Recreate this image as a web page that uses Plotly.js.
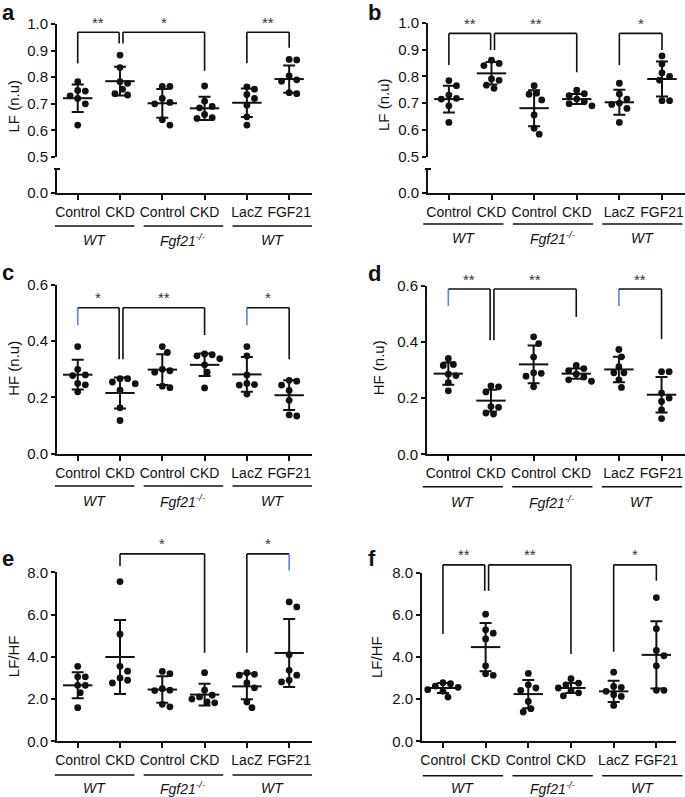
<!DOCTYPE html>
<html><head><meta charset="utf-8">
<script src="https://cdn.plot.ly/plotly-3.0.1.min.js"></script>
<style>html,body{margin:0;padding:0;background:#fff}</style>
</head><body><div id="chart" style="width:685px;height:797px"></div>
<script>
// ---------- labels ----------
const tickLabels = ['Control', 'CKD', 'Control', 'CKD', 'LacZ', 'FGF21'];
const groupLabels = ['<i>WT</i>', '<i>Fgf21<sup>-/-</sup></i>', '<i>WT</i>'];

// ---------- panel a : LF (n.u) ----------
const aCtrlWT = [0.783, 0.75, 0.748, 0.73, 0.72, 0.70, 0.62];
const aCkdWT  = [0.883, 0.836, 0.783, 0.777, 0.755, 0.738, 0.733];
const aCtrlKO = [0.765, 0.765, 0.72, 0.705, 0.70, 0.64, 0.62];
const aCkdKO  = [0.767, 0.71, 0.69, 0.685, 0.66, 0.648, 0.645];
const aLacZ   = [0.764, 0.755, 0.735, 0.72, 0.695, 0.651, 0.62];
const aFGF21  = [0.867, 0.865, 0.805, 0.79, 0.785, 0.742, 0.738];
const aMean = [0.721, 0.785, 0.702, 0.683, 0.704, 0.793];
const aSD   = [0.052, 0.054, 0.054, 0.0435, 0.0535, 0.051];
const aPairs = [[0, 1], [1, 3], [4, 5]];
const aStars = ['**', '*', '**'];
const aBracketY = [[0.852, 0.969, 0.927], [0.927, 0.969, 0.824], [0.852, 0.969, 0.911]];

// ---------- panel b : LF (n.u) ----------
const bCtrlWT = [0.784, 0.765, 0.73, 0.718, 0.715, 0.69, 0.628];
const bCkdWT  = [0.86, 0.848, 0.84, 0.79, 0.785, 0.767, 0.755];
const bCtrlKO = [0.765, 0.737, 0.733, 0.712, 0.656, 0.606, 0.584];
const bCkdKO  = [0.748, 0.735, 0.728, 0.715, 0.705, 0.698, 0.69];
const bLacZ   = [0.774, 0.734, 0.715, 0.70, 0.695, 0.68, 0.628];
const bFGF21  = [0.876, 0.846, 0.813, 0.80, 0.786, 0.709, 0.709];
const bMean = [0.715, 0.811, 0.681, 0.715, 0.703, 0.79];
const bSD   = [0.05, 0.042, 0.067, 0.0185, 0.0465, 0.065];
const bPairs = [[0, 1], [1, 3], [4, 5]];
const bStars = ['**', '**', '*'];
const bBracketY = [[0.842, 0.960, 0.898], [0.898, 0.960, 0.815], [0.842, 0.960, 0.898]];

// ---------- panel c : HF (n.u) ----------
const cCtrlWT = [0.381, 0.30, 0.28, 0.278, 0.25, 0.245, 0.22];
const cCkdWT  = [0.267, 0.267, 0.255, 0.249, 0.226, 0.163, 0.118];
const cCtrlKO = [0.381, 0.36, 0.30, 0.295, 0.29, 0.24, 0.235];
const cCkdKO  = [0.355, 0.352, 0.348, 0.338, 0.316, 0.29, 0.234];
const cLacZ   = [0.381, 0.348, 0.28, 0.25, 0.246, 0.244, 0.212];
const cFGF21  = [0.261, 0.258, 0.244, 0.225, 0.19, 0.138, 0.134];
const cMean = [0.281, 0.216, 0.299, 0.316, 0.282, 0.208];
const cSD   = [0.053, 0.055, 0.0545, 0.04, 0.062, 0.053];
const cPairs = [[0, 1], [1, 3], [4, 5]];
const cStars = ['*', '**', '*'];
const cBracketY = [[0.457, 0.519, 0.336], [0.336, 0.519, 0.422], [0.457, 0.519, 0.336]];
const cBlueLegs = [[true, false], [false, false], [true, false]];

// ---------- panel d : HF (n.u) ----------
const dCtrlWT = [0.341, 0.32, 0.316, 0.285, 0.28, 0.255, 0.226];
const dCkdWT  = [0.243, 0.24, 0.222, 0.17, 0.167, 0.147, 0.143];
const dCtrlKO = [0.418, 0.394, 0.346, 0.29, 0.288, 0.278, 0.24];
const dCkdKO  = [0.316, 0.305, 0.298, 0.285, 0.275, 0.265, 0.26];
const dLacZ   = [0.373, 0.347, 0.312, 0.29, 0.29, 0.265, 0.238];
const dFGF21  = [0.294, 0.294, 0.218, 0.2, 0.188, 0.158, 0.127];
const dMean = [0.287, 0.191, 0.32, 0.287, 0.302, 0.212];
const dSD   = [0.0395, 0.0385, 0.067, 0.0185, 0.0455, 0.063];
const dPairs = [[0, 1], [1, 3], [4, 5]];
const dStars = ['**', '**', '**'];
const dBracketY = [[0.528, 0.588, 0.406], [0.406, 0.588, 0.489], [0.528, 0.588, 0.41]];
const dBlueLegs = [[true, false], [false, false], [true, false]];

// ---------- panel e : LF/HF ----------
const eCtrlWT = [3.55, 3.05, 3.05, 2.65, 2.65, 2.30, 1.59];
const eCkdWT  = [7.56, 5.07, 3.55, 3.32, 3.0, 2.89, 2.76];
const eCtrlKO = [3.31, 3.2, 2.49, 2.42, 2.4, 1.75, 1.63];
const eCkdKO  = [3.25, 2.42, 2.18, 2.1, 2.0, 1.86, 1.82];
const eLacZ   = [3.25, 3.17, 3.13, 2.76, 2.53, 1.86, 1.59];
const eFGF21  = [6.6, 6.36, 4.1, 3.36, 3.13, 2.89, 2.81];
const eMean = [2.65, 3.99, 2.45, 2.21, 2.6, 4.18];
const eSD   = [0.615, 1.75, 0.63, 0.515, 0.615, 1.605];
const ePairs = [[1, 3], [4, 5]];
const eStars = ['*', '*'];
const eBracketY = [[8.30, 8.87, 4.19], [4.19, 8.87, 8.08]];
const eBlueLegs = [[false, false], [false, true]];

// ---------- panel f : LF/HF ----------
const fCtrlWT = [2.78, 2.73, 2.62, 2.56, 2.45, 2.37, 2.1];
const fCkdWT  = [6.03, 5.29, 5.13, 4.86, 3.58, 3.2, 3.13];
const fCtrlKO = [3.22, 2.68, 2.53, 2.42, 1.89, 1.55, 1.39];
const fCkdKO  = [2.97, 2.76, 2.68, 2.53, 2.4, 2.3, 2.16];
const fLacZ   = [3.28, 2.6, 2.56, 2.37, 2.21, 2.13, 1.7];
const fFGF21  = [6.82, 5.34, 4.31, 4.06, 3.58, 2.42, 2.42];
const fMean = [2.53, 4.47, 2.24, 2.53, 2.37, 4.1];
const fSD   = [0.235, 1.145, 0.67, 0.235, 0.5, 1.6];
const fPairs = [[0, 1], [1, 3], [4, 5]];
const fStars = ['**', '**', '*'];
const fBracketY = [[5.09, 8.37, 7.14], [7.14, 8.37, 4.14], [4.25, 8.37, 7.62]];

// ---------- layout geometry (pixels) ----------
const W = 685, H = 797;
const FONT = '"Liberation Sans", Arial, Helvetica, sans-serif';
const INK = '#111111';
const BLUE = '#5b86d6';
const P = x => x / W;
const Q = y => 1 - y / H;

const panels = [
  {letter: 'a', groups: [aCtrlWT, aCkdWT, aCtrlKO, aCkdKO, aLacZ, aFGF21], mean: aMean, sd: aSD,
   pairs: aPairs, stars: aStars, by: aBracketY, blue: null, ytitle: 'LF (n.u)',
   xpx: [57, 312], xr: [-0.49, 5.54], ypx: [157, 24], yr: [0.5, 1.0], tv: [0.5, 0.6, 0.7, 0.8, 0.9, 1.0],
   lower: [193, 169], tpos: [13.5, 106], lpos: [0, 13], gl: 226, gt: 239.5, gs: -0.54},
  {letter: 'b', groups: [bCtrlWT, bCkdWT, bCtrlKO, bCkdKO, bLacZ, bFGF21], mean: bMean, sd: bSD,
   pairs: bPairs, stars: bStars, by: bBracketY, blue: null, ytitle: 'LF (n.u)',
   xpx: [428, 685], xr: [-0.49, 5.54], ypx: [156.7, 22.7], yr: [0.5, 1.0], tv: [0.5, 0.6, 0.7, 0.8, 0.9, 1.0],
   lower: [192.7, 169], tpos: [383, 105], lpos: [366, 12.5], gl: 224, gt: 238, gs: -0.6},
  {letter: 'c', groups: [cCtrlWT, cCkdWT, cCtrlKO, cCkdKO, cLacZ, cFGF21], mean: cMean, sd: cSD,
   pairs: cPairs, stars: cStars, by: cBracketY, blue: cBlueLegs, ytitle: 'HF (n.u)',
   xpx: [57, 312], xr: [-0.49, 5.54], ypx: [453.7, 285], yr: [0, 0.6], tv: [0, 0.2, 0.4, 0.6],
   lower: null, tpos: [13.5, 368.3], lpos: [0, 272], gl: 486, gt: 500.7, gs: -0.54},
  {letter: 'd', groups: [dCtrlWT, dCkdWT, dCtrlKO, dCkdKO, dLacZ, dFGF21], mean: dMean, sd: dSD,
   pairs: dPairs, stars: dStars, by: dBracketY, blue: dBlueLegs, ytitle: 'HF (n.u)',
   xpx: [427, 685], xr: [-0.5, 5.55], ypx: [454.3, 285.7], yr: [0, 0.6], tv: [0, 0.2, 0.4, 0.6],
   lower: null, tpos: [378, 368.3], lpos: [366, 273], gl: 486.7, gt: 501.7, gs: -0.6},
  {letter: 'e', groups: [eCtrlWT, eCkdWT, eCtrlKO, eCkdKO, eLacZ, eFGF21], mean: eMean, sd: eSD,
   pairs: ePairs, stars: eStars, by: eBracketY, blue: eBlueLegs, ytitle: 'LF/HF',
   xpx: [57, 312], xr: [-0.49, 5.54], ypx: [741.3, 572.3], yr: [0, 8], tv: [0, 2, 4, 6, 8],
   lower: null, tpos: [13.5, 656.7], lpos: [0, 558.5], gl: 775, gt: 787.5, gs: -0.54},
  {letter: 'f', groups: [fCtrlWT, fCkdWT, fCtrlKO, fCkdKO, fLacZ, fFGF21], mean: fMean, sd: fSD,
   pairs: fPairs, stars: fStars, by: fBracketY, blue: null, ytitle: 'LF/HF',
   xpx: [422, 676], xr: [-0.49, 5.46], ypx: [741.3, 572.7], yr: [0, 8], tv: [0, 2, 4, 6, 8],
   lower: null, tpos: [376.3, 656.7], lpos: [366, 558.5], gl: 775.7, gt: 787.5, gs: -0.47}
];

// simple deterministic beeswarm (pixel-space collision avoidance)
function swarm(vals, pxPerY, pxPerX, diam) {
  const order = vals.map((v, i) => i).sort((i, j) => vals[j] - vals[i]);
  const placed = [];
  const offs = new Array(vals.length).fill(0);
  const step = diam / 3;
  for (const i of order) {
    const yp = vals[i] * pxPerY;
    let best = 0;
    for (let k = 0; k < 60; k++) {
      const cand = k === 0 ? 0 : (k % 2 ? 1 : -1) * Math.ceil(k / 2) * step;
      if (placed.every(p => Math.hypot(p.x - cand, p.y - yp) >= diam)) { best = cand; break; }
    }
    placed.push({x: best, y: yp});
    offs[i] = best / pxPerX;
  }
  return offs;
}

const traces = [];
const layout = {
  width: W, height: H, autosize: false,
  margin: {l: 0, r: 0, t: 0, b: 0, pad: 0},
  paper_bgcolor: '#fff', plot_bgcolor: 'rgba(0,0,0,0)',
  showlegend: false,
  font: {family: FONT, color: INK, size: 14},
  shapes: [], annotations: []
};

let extraY = 7;
panels.forEach((pn, k) => {
  const n = k + 1;
  const xa = 'x' + (n === 1 ? '' : n);
  const ya = 'y' + (n === 1 ? '' : n);
  const xKey = 'xaxis' + (n === 1 ? '' : n);
  const yKey = 'yaxis' + (n === 1 ? '' : n);
  let lowerId = null;
  if (pn.lower) { lowerId = 'y' + extraY; extraY++; }

  const axisCommon = {showline: true, linecolor: INK, linewidth: 2, ticks: 'outside', tickwidth: 2,
    tickcolor: INK, showgrid: false, zeroline: false, fixedrange: true};

  layout[xKey] = Object.assign({}, axisCommon, {
    domain: [P(pn.xpx[0]), P(pn.xpx[1])], range: pn.xr, anchor: lowerId || ya,
    tickvals: [0, 1, 2, 3, 4, 5], ticktext: tickLabels, ticklen: 5,
    tickfont: {size: 14, family: FONT, color: INK}
  });
  layout[yKey] = Object.assign({}, axisCommon, {
    domain: [Q(pn.ypx[0]), Q(pn.ypx[1])], range: pn.yr, anchor: xa,
    tickvals: pn.tv, tickformat: '.1f', ticklen: 4,
    tickfont: {size: 15, family: FONT, color: INK}
  });
  if (lowerId) {
    const lk = 'yaxis' + lowerId.slice(1);
    layout[lk] = Object.assign({}, axisCommon, {
      domain: [Q(pn.lower[0]), Q(pn.lower[1])], range: [0, 0.09], anchor: xa,
      tickvals: [0], ticktext: ['0.0'], ticklen: 4,
      tickfont: {size: 15, family: FONT, color: INK}
    });
    traces.push({type: 'scatter', x: [], y: [], xaxis: xa, yaxis: lowerId, hoverinfo: 'skip'});
    // break cap on top of the lower axis segment
    layout.shapes.push({type: 'line', xref: 'paper', yref: 'paper',
      x0: P(pn.xpx[0] - 3), x1: P(pn.xpx[0] + 3), y0: Q(pn.lower[1]), y1: Q(pn.lower[1]),
      line: {color: INK, width: 2}});
  }

  // pixel scales
  const pxPerX = (pn.xpx[1] - pn.xpx[0]) / (pn.xr[1] - pn.xr[0]);
  const pxPerY = (pn.ypx[0] - pn.ypx[1]) / (pn.yr[1] - pn.yr[0]);

  // dots
  const xs = [], ys = [];
  pn.groups.forEach((g, gi) => {
    const offs = swarm(g, pxPerY, pxPerX, 7.6);
    g.forEach((v, i) => { xs.push(gi + offs[i]); ys.push(v); });
  });
  traces.push({type: 'scatter', mode: 'markers', x: xs, y: ys, xaxis: xa, yaxis: ya,
    marker: {color: INK, size: 6.8, line: {width: 0}}, cliponaxis: false, hoverinfo: 'skip'});
  // mean +/- SD
  traces.push({type: 'scatter', mode: 'markers', x: [0, 1, 2, 3, 4, 5], y: pn.mean, xaxis: xa, yaxis: ya,
    marker: {symbol: 'line-ew', size: 21, color: INK, line: {width: 2, color: INK}},
    error_y: {type: 'data', array: pn.sd, visible: true, color: INK, thickness: 2, width: 6},
    cliponaxis: false, hoverinfo: 'skip'});

  // significance brackets
  const frac = v => (v - pn.yr[0]) / (pn.yr[1] - pn.yr[0]);
  pn.pairs.forEach((pr, j) => {
    const endsHere = pn.pairs.some((q, m) => m !== j && q[1] === pr[0]);
    const startsHere = pn.pairs.some((q, m) => m !== j && q[0] === pr[1]);
    const xl = pr[0] + (endsHere ? 0.07 : 0);
    const xr = pr[1] + (startsHere ? -0.02 : 0);
    const [yl, yt, yr] = pn.by[j];
    const bl = pn.blue ? pn.blue[j] : [false, false];
    const base = {type: 'line', xref: xa, yref: ya + ' domain', layer: 'above'};
    layout.shapes.push(Object.assign({}, base, {x0: xl, x1: xl, y0: frac(yl), y1: frac(yt),
      line: {color: bl[0] ? BLUE : INK, width: 1.6}}));
    layout.shapes.push(Object.assign({}, base, {x0: xl, x1: xr, y0: frac(yt), y1: frac(yt),
      line: {color: INK, width: 1.6}}));
    layout.shapes.push(Object.assign({}, base, {x0: xr, x1: xr, y0: frac(yt), y1: frac(yr),
      line: {color: bl[1] ? BLUE : INK, width: 1.6}}));
    layout.annotations.push({xref: xa, yref: ya + ' domain', x: (xl + xr) / 2, y: frac(yt),
      text: pn.stars[j], showarrow: false, xanchor: 'center', yanchor: 'middle', yshift: 10,
      font: {size: 15, family: FONT, color: '#333'}});
  });

  // genotype group lines and labels
  const dfrac = v => (v - pn.xr[0]) / (pn.xr[1] - pn.xr[0]);
  groupLabels.forEach((lab, g) => {
    const s = pn.gs + g * 2.1, e = s + 1.88;
    layout.shapes.push({type: 'line', xref: xa + ' domain', yref: 'paper',
      x0: dfrac(s), x1: dfrac(e), y0: Q(pn.gl), y1: Q(pn.gl), line: {color: INK, width: 1.6}});
    layout.annotations.push({xref: xa, yref: 'paper', x: (s + e) / 2, y: Q(pn.gt),
      text: lab, showarrow: false, xanchor: 'center', yanchor: 'middle',
      font: {size: 14, family: FONT, color: INK}});
  });

  // y title
  layout.annotations.push({xref: 'paper', yref: 'paper', x: P(pn.tpos[0]), y: Q(pn.tpos[1]),
    text: pn.ytitle, textangle: -90, showarrow: false, xanchor: 'center', yanchor: 'middle',
    font: {size: 15, family: FONT, color: INK}});
  // panel letter
  layout.annotations.push({xref: 'paper', yref: 'paper', x: P(pn.lpos[0]), y: Q(pn.lpos[1]),
    text: '<b>' + pn.letter + '</b>', showarrow: false, xanchor: 'left', yanchor: 'middle',
    font: {size: 22, family: FONT, color: INK}});
});

Plotly.newPlot('chart', traces, layout, {staticPlot: true, displayModeBar: false});
</script>
</body></html>
